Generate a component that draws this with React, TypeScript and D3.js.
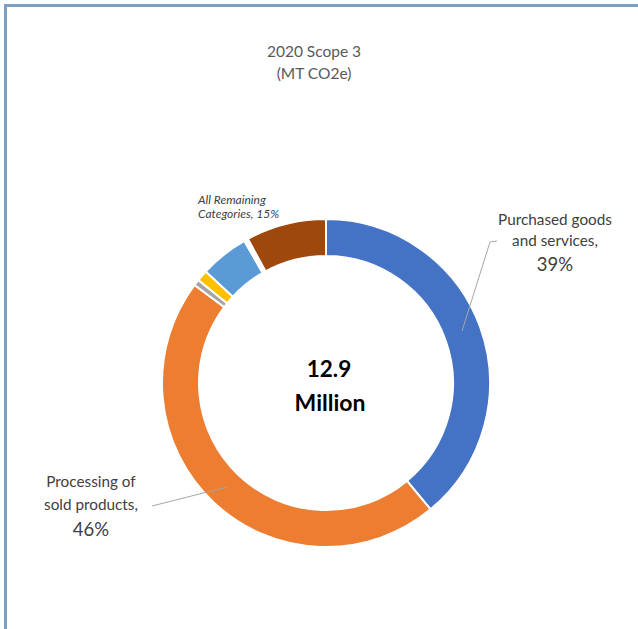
import React from "react";
import * as d3 from "d3";

const categories = [
  "Purchased goods and services",
  "Processing of sold products",
  "Category A",
  "Category B",
  "Category C",
  "Category D",
  "Category E",
];
const values = [39, 46.2, 0.6, 1.1, 4.8, 0.4, 7.9];
const colors = ["#4472C4", "#ED7D31", "#A5A5A5", "#FFC000", "#5B9BD5", "#FFFFFF", "#9E480E"];

const titleLines = ["2020 Scope 3", "(MT CO2e)"];
const centerLines = ["12.9", "Million"];

export default function App() {
  const W = 638, H = 629;
  const cx = 326, cy = 383, outerR = 164, innerR = 127;
  const pie = d3.pie<number>().sort(null).value((d) => d)(values);
  const arc = d3.arc<d3.PieArcDatum<number>>().innerRadius(innerR).outerRadius(outerR);
  const font = "Lato, 'Open Sans', sans-serif";
  return (
    <svg width={W} height={H} style={{ position: "absolute", left: 0, top: 0 }}>
      <rect x={0} y={0} width={W} height={H} fill="#fff" />
      <rect x={5.5} y={5.5} width={700} height={700} fill="none" stroke="#7f9fc2" strokeWidth={3} />
      <text x={314} y={57} textAnchor="middle" fontFamily={font} fontSize={15.5} fill="#595959">{titleLines[0]}</text>
      <text x={314} y={79} textAnchor="middle" fontFamily={font} fontSize={15.5} fill="#595959">{titleLines[1]}</text>
      <g transform={`translate(${cx},${cy})`}>
        {pie.map((p, i) => (
          <path key={categories[i]} d={arc(p) || ""} fill={colors[i]} stroke="#fff" strokeWidth={2} />
        ))}
      </g>
      <text x={329} y={377} textAnchor="middle" fontFamily={font} fontWeight={700} fontSize={22.5} fill="#000">{centerLines[0]}</text>
      <text x={330} y={411} textAnchor="middle" fontFamily={font} fontWeight={700} fontSize={23} fill="#000">{centerLines[1]}</text>
      {/* leader lines */}
      <polyline points="497,241 490,242 462,331" fill="none" stroke="#a6a6a6" strokeWidth={1} />
      <polyline points="152,506 227,487" fill="none" stroke="#a6a6a6" strokeWidth={1} />
      <text x={555} y={225} textAnchor="middle" fontFamily={font} fontSize={15.3} fill="#404040">Purchased goods</text>
      <text x={555} y={246} textAnchor="middle" fontFamily={font} fontSize={15.3} fill="#404040">and services,</text>
      <text x={555} y={271} textAnchor="middle" fontFamily={font} fontSize={18.5} fill="#404040">39%</text>
      <text x={91} y={487} textAnchor="middle" fontFamily={font} fontSize={15.3} fill="#404040">Processing of</text>
      <text x={91} y={510} textAnchor="middle" fontFamily={font} fontSize={15.3} fill="#404040">sold products,</text>
      <text x={91} y={536} textAnchor="middle" fontFamily={font} fontSize={18.5} fill="#404040">46%</text>
      <text x={198} y={204} fontFamily={font} fontStyle="italic" fontSize={12} fill="#404040">All Remaining</text>
      <text x={198} y={218} fontFamily={font} fontStyle="italic" fontSize={12} fill="#404040">Categories, 15%</text>
    </svg>
  );
}
